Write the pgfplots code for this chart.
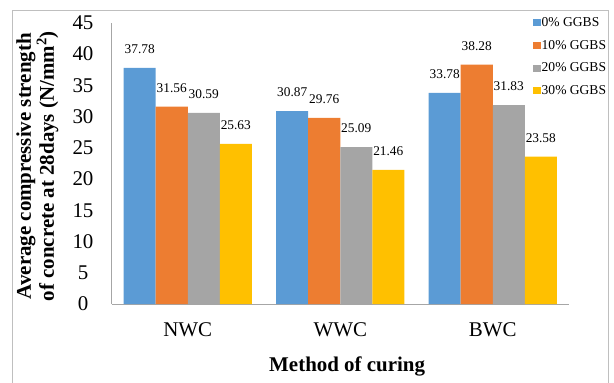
\documentclass[border=0pt]{standalone}
\usepackage{fontspec}
\setmainfont{Liberation Serif}
\usepackage{pgfplots}
\pgfplotsset{compat=1.18}
\definecolor{c0}{HTML}{5B9BD5}
\definecolor{c1}{HTML}{ED7D31}
\definecolor{c2}{HTML}{A5A5A5}
\definecolor{c3}{HTML}{FFC000}
\definecolor{axgray}{HTML}{A6A6A6}
\definecolor{frgray}{HTML}{BFBFBF}
\pgfplotsset{/pgf/number format/assume math mode=true}
\begin{document}
\begin{tikzpicture}
\begin{axis}[
  at={(111.5bp,79bp)}, anchor=south west,
  scale only axis, width=457.5bp, height=281.3bp,
  xmin=-0.5, xmax=2.5, ymin=0, ymax=45,
  ytick={0,5,...,45}, xtick={0,1,2}, xticklabels={NWC,WWC,BWC},
  major tick length=0pt,
  axis x line*=bottom, axis y line*=left,
  axis line style={draw=axgray, line width=1bp, -},
  ticklabel style={font=\fontsize{21}{21}\selectfont},
  yticklabel style={anchor=center, xshift=-28.5bp},
  xticklabel style={anchor=center, yshift=-26bp},
  xlabel={Method of curing},
  xlabel style={font=\bfseries\fontsize{21}{21}\selectfont, at={(axis description cs:0.515,0)}, anchor=center, yshift=-62bp},
  ylabel={Average compressive strength\\of concrete at 28days (N/mm\textsuperscript{2})},
  ylabel style={align=center, font=\bfseries\fontsize{21}{20}\selectfont, at={(axis description cs:-0.162,0.49)}, anchor=center},
  ybar, bar width=0.21,
  legend image code/.code={\fill[#1] (0bp,-3.6bp) rectangle (7.4bp,3.6bp);},
  legend style={at={(axis description cs:0.915,1.03)}, anchor=north west, draw=none, fill=none,
    font=\fontsize{13.6}{13.6}\selectfont, row sep=10.2bp, nodes={inner sep=1bp, anchor=west}},
  legend cell align=left,
  clip=false,
  nodes near coords={\pgfmathprintnumber[fixed,fixed zerofill,precision=2]{\pgfplotspointmeta}},
  every node near coord/.append style={font=\fontsize{13.4}{13.4}\selectfont, text=black, inner sep=0pt, yshift=14bp},
]
\addplot[fill=c0, draw=none, bar shift=-0.315] coordinates {(0,37.78) (1,30.87) (2,33.78)};
\addplot[fill=c1, draw=none, bar shift=-0.105] coordinates {(0,31.56) (1,29.76) (2,38.28)};
\addplot[fill=c2, draw=none, bar shift=0.105] coordinates {(0,30.59) (1,25.09) (2,31.83)};
\addplot[fill=c3, draw=none, bar shift=0.315] coordinates {(0,25.63) (1,21.46) (2,23.58)};
\legend{0\% GGBS, 10\% GGBS, 20\% GGBS, 30\% GGBS}
\end{axis}
\draw[frgray, line width=1bp] (12.5bp,-5bp) -- (12.5bp,372bp) -- (608.5bp,372bp) -- (608.5bp,-5bp);
\pgfresetboundingbox
\path[use as bounding box] (0,0) rectangle (614bp,383bp);
\end{tikzpicture}
\end{document}
